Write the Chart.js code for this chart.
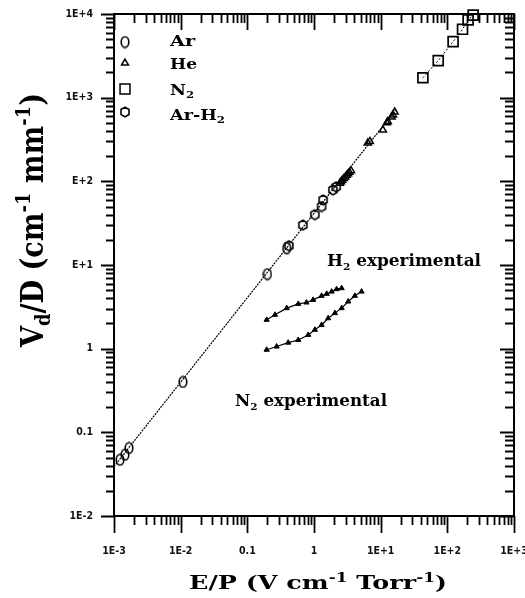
<!DOCTYPE html>
<html lang="en">
<head>
<meta charset="UTF-8">
<title>Vd/D vs E/P</title>
<style>
  html, body { margin: 0; padding: 0; background: #fff; }
  #wrap { width: 525px; height: 598px; }
</style>
</head>
<body>
<div id="wrap"><canvas id="myChart"></canvas></div>
<script src="https://cdn.jsdelivr.net/npm/chart.js"></script>
<script>
// values (E/P in V cm-1 Torr-1, Vd/D in cm-1 mm-1)
const arX = [0.00123, 0.00146, 0.00168, 0.0108, 0.2, 0.39];
const arY = [0.047, 0.054, 0.065, 0.40, 7.8, 15.9];

const heX = [2.44, 2.55, 2.65, 2.8, 2.95, 3.1, 3.25, 3.4, 3.6, 6.4, 6.9, 10.8, 12.4, 12.8, 14.6, 15.3, 16.2];
const heY = [95, 99, 103, 108, 113, 118, 123, 128, 134, 288, 300, 411, 500, 520, 587, 620, 675];

const n2X = [43, 73, 122, 169, 205, 244];
const n2Y = [1730, 2770, 4670, 6560, 8500, 9700];

const arh2X = [0.42, 0.68, 1.03, 1.3, 1.37, 1.92, 2.15];
const arh2Y = [17, 30, 40, 50, 60, 79, 86];

// straight line through the Ar / He / Ar-H2 points
const fitX = [0.001, 17.4];
const fitY = [0.039, 740];

// the two experimental curves
const h2ExpX = [0.195, 0.26, 0.39, 0.58, 0.77, 0.97, 1.30, 1.55, 1.84, 2.18, 2.6];
const h2ExpY = [2.21, 2.54, 3.05, 3.43, 3.56, 3.83, 4.28, 4.52, 4.81, 5.14, 5.28];
const n2ExpX = [0.195, 0.275, 0.41, 0.58, 0.82, 1.03, 1.30, 1.63, 2.06, 2.6, 3.26, 4.1, 5.17];
const n2ExpY = [0.97, 1.06, 1.18, 1.27, 1.46, 1.68, 1.92, 2.31, 2.66, 3.05, 3.66, 4.28, 4.81];

// tick labels
const xTicks = [1e-3, 1e-2, 0.1, 1, 10, 100, 1000];
const xTickLabels = ["1E-3", "1E-2", "0.1", "1", "1E+1", "1E+2", "1E+3"];
const yTicks = [1e-2, 0.1, 1, 10, 100, 1000, 10000];
const yTickLabels = ["1E-2", "0.1", "1", "E+1", "E+2", "1E+3", "1E+4"];

const SERIF = "'DejaVu Serif', 'Liberation Serif', serif";
const TICKFONT = "'Liberation Sans Narrow', 'DejaVu Sans Condensed', 'Liberation Sans', sans-serif";

function pts(xs, ys) {
    return xs.map((x, i) => ({ x: x, y: ys[i] }));
}

function makeMarker(w, h, draw) {
    const c = document.createElement("canvas");
    c.width = w; c.height = h;
    const g = c.getContext("2d");
    g.strokeStyle = "#000";
    g.lineWidth = 1.6;
    draw(g, w, h);
    return c;
}

// tall oval for Ar, hexagon for Ar-H2
const arMark = makeMarker(10, 13, (g, w, h) => {
    g.beginPath();
    g.ellipse(w / 2, h / 2, w / 2 - 1.2, h / 2 - 1.2, 0, 0, 2 * Math.PI);
    g.stroke();
});
const arh2Mark = makeMarker(12, 12, (g, w, h) => {
    g.beginPath();
    for (let k = 0; k < 6; k++) {
        const a = Math.PI / 6 + k * Math.PI / 3;
        const px = w / 2 + 4.6 * Math.cos(a), py = h / 2 + 4.9 * Math.sin(a);
        if (k === 0) g.moveTo(px, py); else g.lineTo(px, py);
    }
    g.closePath();
    g.stroke();
});

// text with sub/superscripts; parts = [[text, ''|'sub'|'sup'], ...]
function drawRich(ctx, parts, x, y, o) {
    const size = o.size;
    const fontFor = m => "bold " + (m ? Math.round(size * 0.65) : size) + "px " + SERIF;
    ctx.save();
    ctx.letterSpacing = (o.spacing || 0) + "px";
    let w = 0;
    parts.forEach(p => { ctx.font = fontFor(p[1]); w += ctx.measureText(p[0]).width; });
    const sx = o.width ? o.width / w : 1;
    ctx.translate(x, y);
    if (o.rot) ctx.rotate(o.rot);
    ctx.scale(sx, 1);
    let cx = o.align === "center" ? -w / 2 : 0;
    ctx.textAlign = "left";
    ctx.textBaseline = "alphabetic";
    ctx.fillStyle = "#000";
    parts.forEach(p => {
        ctx.font = fontFor(p[1]);
        const dy = p[1] === "sub" ? size * 0.22 : (p[1] === "sup" ? -size * 0.4 : 0);
        ctx.fillText(p[0], cx, dy);
        cx += ctx.measureText(p[0]).width;
    });
    ctx.restore();
}

function drawSymbol(ctx, style, r, x, y) {
    if (style instanceof HTMLCanvasElement) {
        ctx.drawImage(style, x - style.width / 2, y - style.height / 2);
        return;
    }
    ctx.save();
    ctx.strokeStyle = "#000";
    ctx.fillStyle = "#fff";
    ctx.lineWidth = 1.5;
    Chart.helpers.drawPoint(ctx, { pointStyle: style, radius: r, rotation: 0, borderWidth: 1.5 }, x, y);
    ctx.restore();
}

const framePlugin = {
    id: "frame",
    afterDraw(chart) {
        const ctx = chart.ctx;
        const a = chart.chartArea;
        const xs = chart.scales.x, ys = chart.scales.y;

        ctx.save();
        ctx.strokeStyle = "#000";
        ctx.lineWidth = 2;
        ctx.strokeRect(a.left, a.top, a.right - a.left, a.bottom - a.top);

        // major + minor log ticks on all four sides
        ctx.lineWidth = 1.8;
        ctx.beginPath();
        for (let e = -3; e < 3; e++) {
            for (let k = 1; k <= 9; k++) {
                const px = Math.round(xs.getPixelForValue(k * Math.pow(10, e))) + 0.5;
                const big = k === 1;
                ctx.moveTo(px, a.bottom); ctx.lineTo(px, a.bottom + (big ? 17 : 9));
                ctx.moveTo(px, a.top); ctx.lineTo(px, a.top + (big ? 16 : 9));
            }
        }
        for (let e = -2; e < 4; e++) {
            for (let k = 1; k <= 9; k++) {
                const py = Math.round(ys.getPixelForValue(k * Math.pow(10, e))) + 0.5;
                const big = k === 1;
                ctx.moveTo(a.left, py); ctx.lineTo(a.left - (big ? 13 : 8), py);
                ctx.moveTo(a.right, py); ctx.lineTo(a.right - (big ? 14 : 9), py);
            }
        }
        ctx.moveTo(a.right + 0.5, a.top); ctx.lineTo(a.right + 0.5, a.top + 16);
        ctx.moveTo(a.left, a.top + 0.5); ctx.lineTo(a.left - 13, a.top + 0.5);
        ctx.moveTo(a.right + 0.5, a.bottom); ctx.lineTo(a.right + 0.5, a.bottom + 17);
        ctx.stroke();
        ctx.restore();

        // legend
        const ds = chart.data.datasets;
        const legendRows = [
            { i: 3, parts: [["Ar", ""]], y: 40, sy: 42, w: 25 },
            { i: 4, parts: [["He", ""]], y: 63, sy: 63, w: 27 },
            { i: 5, parts: [["N", ""], ["2", "sub"]], y: 89, sy: 89, w: 24 },
            { i: 6, parts: [["Ar-H", ""], ["2", "sub"]], y: 114, sy: 112, w: 55 }
        ];
        legendRows.forEach(row => {
            const d = ds[row.i];
            drawSymbol(ctx, d.pointStyle, d.pointRadius, 125, row.sy);
            drawRich(ctx, row.parts, 170, row.y + 5.5, { size: 15, width: row.w });
        });

        // curve labels
        drawRich(ctx, [["H", ""], ["2", "sub"], [" experimental", ""]], 327, 266, { size: 16, width: 154 });
        drawRich(ctx, [["N", ""], ["2", "sub"], [" experimental", ""]], 235, 406, { size: 16, width: 152 });

        // axis titles
        drawRich(ctx, [["E/P (V cm", ""], ["-1", "sup"], [" Torr", ""], ["-1", "sup"], [")", ""]],
            318, 589, { size: 18, width: 258, align: "center" });
        drawRich(ctx, [["V", ""], ["d", "sub"], ["/D (cm", ""], ["-1", "sup"], [" mm", ""], ["-1", "sup"], [")", ""]],
            43, 220, { size: 32, width: 254, align: "center", rot: -Math.PI / 2 });
    }
};

const ctx = document.getElementById("myChart");

new Chart(ctx, {
    type: "scatter",
    data: {
        datasets: [
            {
                label: "fit", data: pts(fitX, fitY), showLine: true, pointRadius: 0,
                borderColor: "#000", borderWidth: 1.2, borderDash: [2, 1], clip: false
            },
            {
                label: "H2 experimental", data: pts(h2ExpX, h2ExpY), showLine: true,
                borderColor: "#000", borderWidth: 1.2, pointStyle: "triangle", pointRadius: 3,
                backgroundColor: "#000", pointBorderColor: "#000", pointBorderWidth: 1
            },
            {
                label: "N2 experimental", data: pts(n2ExpX, n2ExpY), showLine: true,
                borderColor: "#000", borderWidth: 1.2, pointStyle: "triangle", pointRadius: 3,
                backgroundColor: "#000", pointBorderColor: "#000", pointBorderWidth: 1
            },
            {
                label: "Ar", data: pts(arX, arY), pointStyle: arMark, pointRadius: 5, clip: false
            },
            {
                label: "He", data: pts(heX, heY), pointStyle: "triangle", pointRadius: 4,
                backgroundColor: "rgba(0,0,0,0)", borderColor: "#000", pointBorderWidth: 1.5, clip: false
            },
            {
                label: "N2", data: pts(n2X, n2Y), showLine: true, pointStyle: "rect", pointRadius: 7,
                backgroundColor: "rgba(0,0,0,0)", borderColor: "#000", borderWidth: 1, borderDash: [2, 2],
                pointBorderWidth: 1.7, clip: false
            },
            {
                label: "Ar-H2", data: pts(arh2X, arh2Y), pointStyle: arh2Mark, pointRadius: 5, clip: false
            }
        ]
    },
    options: {
        responsive: true,
        maintainAspectRatio: false,
        animation: false,
        layout: { padding: { top: 14, right: 11, left: 0, bottom: 0 } },
        plugins: {
            legend: { display: false },
            tooltip: { enabled: false }
        },
        scales: {
            x: {
                type: "logarithmic",
                min: 1e-3,
                max: 1e3,
                grid: { display: false, drawTicks: false },
                border: { display: false },
                afterBuildTicks: s => { s.ticks = xTicks.map(v => ({ value: v })); },
                afterFit: s => { s.height = 82; s.paddingLeft = 0; s.paddingRight = 0; },
                ticks: {
                    autoSkip: false,
                    maxRotation: 0,
                    padding: 29,
                    color: "#111",
                    font: { family: TICKFONT, size: 10.5, weight: "bold" },
                    callback: (v, i) => xTickLabels[i]
                }
            },
            y: {
                type: "logarithmic",
                min: 1e-2,
                max: 1e4,
                grid: { display: false, drawTicks: false },
                border: { display: false },
                afterBuildTicks: s => { s.ticks = yTicks.map(v => ({ value: v })); },
                afterFit: s => { s.width = 114; s.paddingTop = 0; s.paddingBottom = 0; },
                ticks: {
                    autoSkip: false,
                    padding: 21,
                    color: "#111",
                    font: { family: TICKFONT, size: 10.5, weight: "bold" },
                    callback: (v, i) => yTickLabels[i]
                }
            }
        }
    },
    plugins: [framePlugin]
});
</script>
</body>
</html>
